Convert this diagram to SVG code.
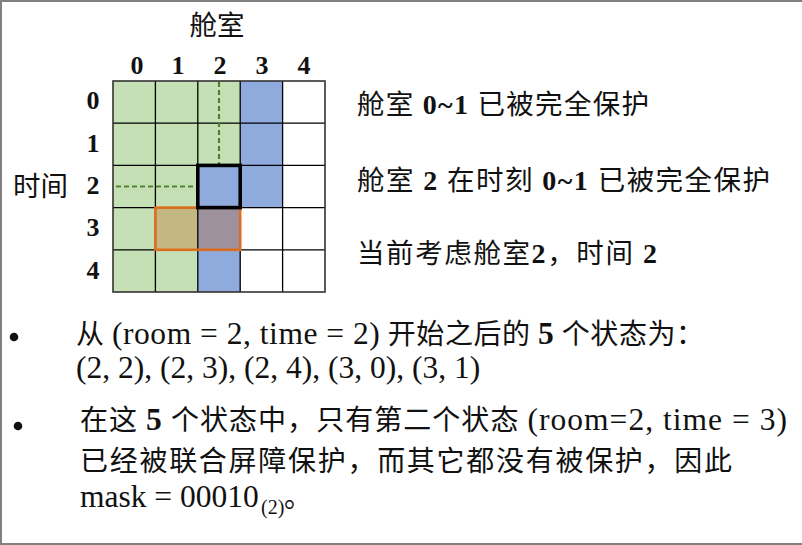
<svg xmlns="http://www.w3.org/2000/svg" width="802" height="545" viewBox="0 0 802 545">
<style>
text{font-family:'Liberation Serif','Noto Sans CJK SC',serif;fill:#111}
.num{font-size:26px;font-weight:bold}
.cjk{font-size:27.5px}
.rt{font-size:27.5px}
.rl{font-size:28px;font-weight:bold}
.bt{font-size:28px}
.l{font-size:31.5px}
.lb{font-size:31.5px;font-weight:bold}
.grid{stroke:#000;stroke-width:1.3;fill:none}
.dash{stroke:#548235;stroke-width:2.2;stroke-dasharray:5 3;fill:none}
</style>
<rect x="0" y="0" width="802" height="545" fill="#fff"/>
<g id="frame" stroke="#808080" stroke-width="2" fill="none">
<line x1="1" y1="0" x2="1" y2="545"/>
<line x1="0" y1="1" x2="802" y2="1"/>
<line x1="0" y1="544" x2="802" y2="544"/>
</g>
<g id="grid">
<rect x="113" y="81" width="84.8" height="211" fill="#C5E0B4"/>
<rect x="197.8" y="81" width="42.4" height="84.4" fill="#C5E0B4"/>
<rect x="240.2" y="81" width="42.4" height="126.6" fill="#8FAADC"/>
<rect x="197.8" y="165.4" width="42.4" height="126.6" fill="#8FAADC"/>
<rect x="155.4" y="207.6" width="84.8" height="42.2" fill="#C55A11" fill-opacity="0.3"/>
<path class="grid" d="M155.4 81V292M197.8 81V292M240.2 81V292M282.6 81V292M113 123.2H325M113 165.4H325M113 207.6H325M113 249.8H325"/>
<rect x="113" y="81" width="212" height="211" fill="none" stroke="#333" stroke-width="1.6"/>
</g>
<g id="dashes">
<line class="dash" x1="219" y1="82" x2="219" y2="164"/>
<line class="dash" x1="116" y1="186.5" x2="196" y2="186.5"/>
</g>
<g id="highlight">
<rect x="155.4" y="207.6" width="84.8" height="42.2" fill="none" stroke="#DD6E1F" stroke-width="2.6"/>
<rect x="197.8" y="165.4" width="42.4" height="42.2" fill="none" stroke="#000" stroke-width="3.6"/>
</g>
<g id="labels">
<text class="cjk" x="217" y="35" text-anchor="middle">舱室</text>
<text class="num" x="137" y="74" text-anchor="middle">0</text>
<text class="num" x="178" y="74" text-anchor="middle">1</text>
<text class="num" x="220" y="74" text-anchor="middle">2</text>
<text class="num" x="262" y="74" text-anchor="middle">3</text>
<text class="num" x="304" y="74" text-anchor="middle">4</text>
<text class="num" x="93" y="109" text-anchor="middle">0</text>
<text class="num" x="93" y="152" text-anchor="middle">1</text>
<text class="num" x="93" y="194" text-anchor="middle">2</text>
<text class="num" x="93" y="236" text-anchor="middle">3</text>
<text class="num" x="93" y="279" text-anchor="middle">4</text>
<text class="cjk" x="13" y="196">时间</text>
</g>
<g id="notes">
<text class="rt" x="357" y="114" textLength="292" lengthAdjust="spacing">舱室 <tspan class="rl">0~1</tspan> 已被完全保护</text>
<text class="rt" x="357" y="190" textLength="413" lengthAdjust="spacing">舱室 <tspan class="rl">2</tspan> 在时刻 <tspan class="rl">0~1</tspan> 已被完全保护</text>
<text class="rt" x="357" y="263" textLength="300" lengthAdjust="spacing">当前考虑舱室<tspan class="rl">2</tspan>，时间 <tspan class="rl">2</tspan></text>
</g>
<g id="bullets">
<circle cx="14" cy="337" r="4.3" fill="#111"/>
<circle cx="18" cy="426" r="4.3" fill="#111"/>
<text class="bt" x="76" y="344" textLength="628" lengthAdjust="spacing">从 <tspan class="l">(room = 2, time = 2)</tspan> 开始之后的 <tspan class="lb">5</tspan> 个状态为：</text>
<text class="l" x="76" y="378">(2, 2), (2, 3), (2, 4), (3, 0), (3, 1)</text>
<text class="bt" x="80" y="430" textLength="707" lengthAdjust="spacing">在这 <tspan class="lb">5</tspan> 个状态中，只有第二个状态 <tspan class="l">(room=2, time = 3)</tspan></text>
<text class="bt" x="80" y="471" textLength="652" lengthAdjust="spacing">已经被联合屏障保护，而其它都没有被保护，因此</text>
<text class="l" x="80" y="507">mask = 00010</text>
<text x="261" y="514" font-size="20">(2)</text>
<text class="bt" x="284" y="507">。</text>
</g>
</svg>
